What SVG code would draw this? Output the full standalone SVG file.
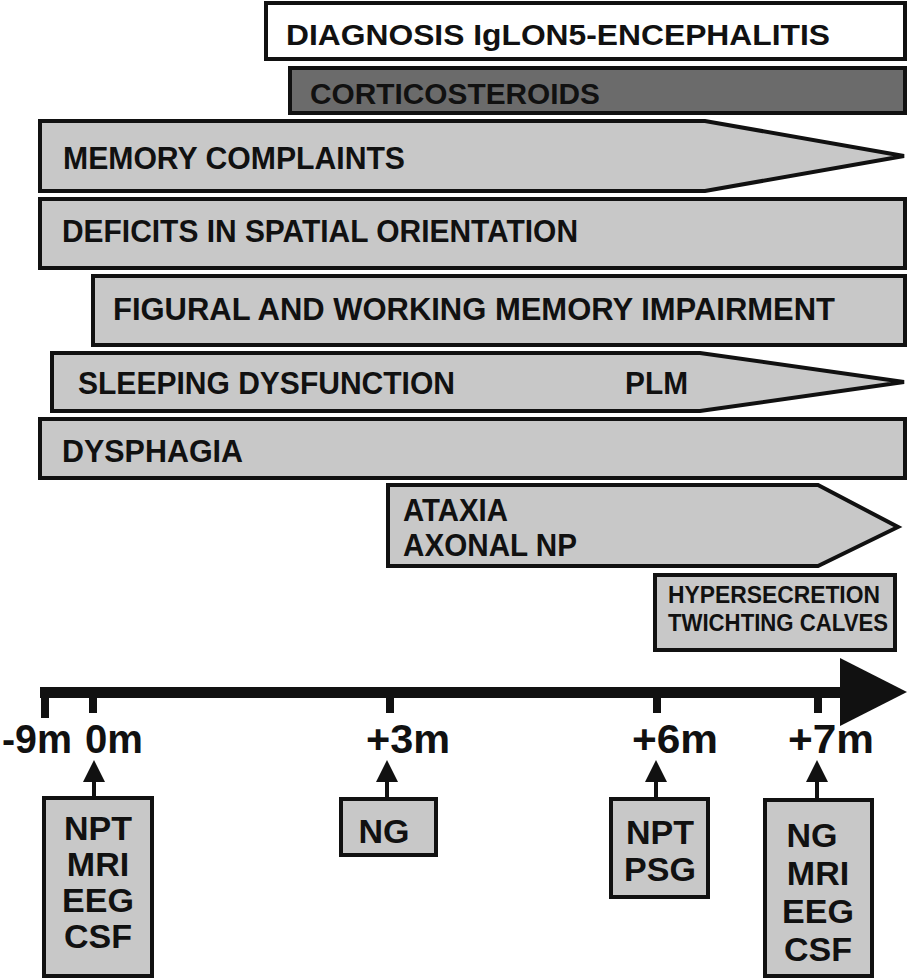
<svg xmlns="http://www.w3.org/2000/svg" width="909" height="979" viewBox="0 0 909 979">
<style>
.bar{fill:#c8c8c8;stroke:#111;stroke-width:4;stroke-linejoin:miter}
.t{font-family:"Liberation Sans",Arial,sans-serif;font-weight:bold;fill:#111}
.h{font-size:29px}
.b{font-size:32px}
.s{font-size:23px}
.m{font-size:40px}
.l{font-size:34px}
.tick{stroke:#111;stroke-width:8}
.stem{stroke:#111;stroke-width:4}
.head{fill:#111}
</style>
<g id="diagnosis">
<rect x="266" y="3" width="639" height="56" fill="#fff" stroke="#111" stroke-width="4"/>
<text class="t h" x="286" y="45" textLength="544" lengthAdjust="spacingAndGlyphs">DIAGNOSIS IgLON5-ENCEPHALITIS</text>
</g>
<g id="corticosteroids">
<rect x="290" y="68" width="615" height="45" fill="#6b6b6b" stroke="#111" stroke-width="4"/>
<text class="t h" x="310" y="104" textLength="290" lengthAdjust="spacingAndGlyphs" fill="#1a1a1a">CORTICOSTEROIDS</text>
</g>
<g id="memory">
<path class="bar" d="M40,121 L705,121 L904,156 L705,191 L40,191 Z"/>
<text class="t b" x="63" y="169" textLength="342" lengthAdjust="spacingAndGlyphs">MEMORY COMPLAINTS</text>
</g>
<g id="spatial">
<rect class="bar" x="40" y="199" width="865" height="69"/>
<text class="t b" x="62" y="242" textLength="516" lengthAdjust="spacingAndGlyphs">DEFICITS IN SPATIAL ORIENTATION</text>
</g>
<g id="figural">
<rect class="bar" x="93" y="276" width="812" height="69"/>
<text class="t b" x="113" y="320" textLength="722" lengthAdjust="spacingAndGlyphs">FIGURAL AND WORKING MEMORY IMPAIRMENT</text>
</g>
<g id="sleeping">
<path class="bar" d="M52,353 L700,353 L904,382 L700,411 L52,411 Z"/>
<text class="t b" x="78" y="394" textLength="377" lengthAdjust="spacingAndGlyphs">SLEEPING DYSFUNCTION</text>
<text class="t b" x="625" y="394" textLength="63" lengthAdjust="spacingAndGlyphs">PLM</text>
</g>
<g id="dysphagia">
<rect class="bar" x="40" y="419" width="865" height="59"/>
<text class="t b" x="62" y="462" textLength="181" lengthAdjust="spacingAndGlyphs">DYSPHAGIA</text>
</g>
<g id="ataxia">
<path class="bar" d="M388,485 L818,485 L898,527 L818,566 L388,566 Z"/>
<text class="t b" x="403" y="521" textLength="105" lengthAdjust="spacingAndGlyphs">ATAXIA</text>
<text class="t b" x="403" y="556" textLength="174" lengthAdjust="spacingAndGlyphs">AXONAL NP</text>
</g>
<g id="hypersecretion">
<rect class="bar" x="655" y="575" width="240" height="75"/>
<text class="t s" x="668" y="603" textLength="212" lengthAdjust="spacingAndGlyphs">HYPERSECRETION</text>
<text class="t s" x="668" y="631" textLength="220" lengthAdjust="spacingAndGlyphs">TWICHTING CALVES</text>
</g>
<g id="timeline">
<rect x="40" y="687" width="805" height="11" fill="#111"/>
<path d="M840,658 L907,692 L840,726 Z" fill="#111"/>
<line class="tick" x1="45" y1="690" x2="45" y2="718"/>
<line class="tick" x1="93" y1="690" x2="93" y2="713"/>
<line class="tick" x1="390" y1="690" x2="390" y2="713"/>
<line class="tick" x1="657" y1="690" x2="657" y2="713"/>
<line class="tick" x1="818" y1="690" x2="818" y2="713"/>
<text class="t m" x="2" y="753" textLength="70" lengthAdjust="spacingAndGlyphs">-9m</text>
<text class="t m" x="85" y="753" textLength="58" lengthAdjust="spacingAndGlyphs">0m</text>
<text class="t m" x="366" y="753" textLength="84" lengthAdjust="spacingAndGlyphs">+3m</text>
<text class="t m" x="632" y="753" textLength="86" lengthAdjust="spacingAndGlyphs">+6m</text>
<text class="t m" x="788" y="753" textLength="86" lengthAdjust="spacingAndGlyphs">+7m</text>
</g>
<g id="connectors">
<line class="stem" x1="94" y1="797" x2="94" y2="778"/>
<path class="head" d="M94,760 L105,782 L83,782 Z"/>
<line class="stem" x1="387" y1="798" x2="387" y2="778"/>
<path class="head" d="M387,760 L398,782 L376,782 Z"/>
<line class="stem" x1="656" y1="798" x2="656" y2="778"/>
<path class="head" d="M656,760 L667,782 L645,782 Z"/>
<line class="stem" x1="817" y1="799" x2="817" y2="778"/>
<path class="head" d="M817,760 L828,782 L806,782 Z"/>
</g>
<g id="box0">
<rect class="bar" x="44" y="798" width="108" height="178"/>
<text class="t l" x="98" y="840" text-anchor="middle">NPT</text>
<text class="t l" x="98" y="876" text-anchor="middle">MRI</text>
<text class="t l" x="98" y="912" text-anchor="middle">EEG</text>
<text class="t l" x="98" y="948" text-anchor="middle">CSF</text>
</g>
<g id="box3">
<rect class="bar" x="341" y="799" width="95" height="56"/>
<text class="t l" x="384" y="843" text-anchor="middle">NG</text>
</g>
<g id="box6">
<rect class="bar" x="611" y="799" width="97" height="98"/>
<text class="t l" x="660" y="844" text-anchor="middle">NPT</text>
<text class="t l" x="660" y="881" text-anchor="middle">PSG</text>
</g>
<g id="box7">
<rect class="bar" x="765" y="800" width="107" height="176"/>
<text class="t l" x="812" y="847" text-anchor="middle">NG</text>
<text class="t l" x="818" y="885" text-anchor="middle">MRI</text>
<text class="t l" x="818" y="923" text-anchor="middle">EEG</text>
<text class="t l" x="818" y="961" text-anchor="middle">CSF</text>
</g>
</svg>
